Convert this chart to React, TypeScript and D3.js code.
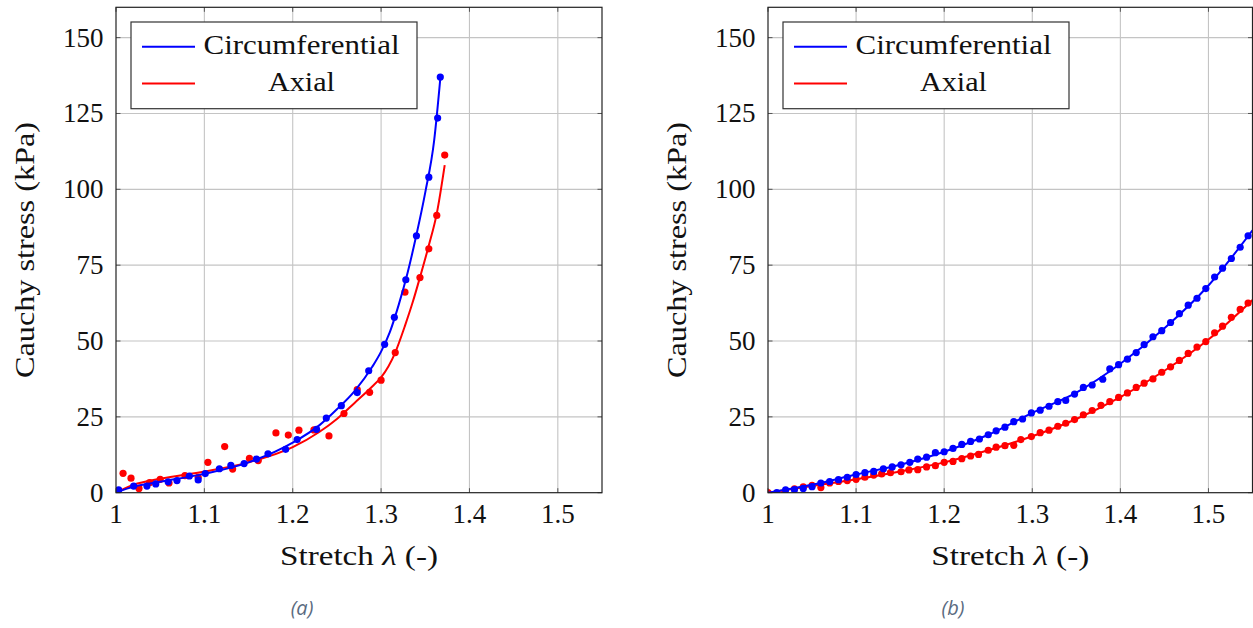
import React from 'react';
import * as d3 from 'd3';

type Pt = [number, number];

const xTicks = [1, 1.1, 1.2, 1.3, 1.4, 1.5];
const xTickLabels = ['1', '1.1', '1.2', '1.3', '1.4', '1.5'];
const yTicks = [0, 25, 50, 75, 100, 125, 150];
const yTickLabels = ['0', '25', '50', '75', '100', '125', '150'];
const seriesNames = ['Circumferential', 'Axial'];
const seriesColors = ['#0000ff', '#ff0000'];
const xLabel = 'Stretch';
const yLabel = 'Cauchy stress (kPa)';
const captions = ['(a)', '(b)'];

// Panel (a) experimental points
const leftCircPoints: Pt[] = [
  [1.003, 0.9], [1.02, 2.2], [1.035, 2.2], [1.045, 2.9], [1.059, 3.6], [1.069, 4.0],
  [1.083, 5.5], [1.093, 4.2], [1.101, 6.3], [1.117, 7.9], [1.13, 9.0], [1.145, 9.6],
  [1.159, 11.1], [1.172, 12.8], [1.192, 14.3], [1.205, 17.5], [1.227, 20.9], [1.238, 24.6],
  [1.255, 28.7], [1.273, 33.0], [1.286, 40.2], [1.304, 48.9], [1.315, 57.8], [1.328, 70.2],
  [1.34, 84.7], [1.354, 104.0], [1.364, 123.5], [1.367, 137.0],
];
const leftAxialPoints: Pt[] = [
  [1.008, 6.4], [1.017, 4.8], [1.026, 1.4], [1.038, 3.3], [1.05, 4.4], [1.06, 3.2],
  [1.078, 5.6], [1.093, 5.1], [1.104, 10.0], [1.123, 15.2], [1.132, 7.8], [1.151, 11.3],
  [1.161, 10.6], [1.181, 19.7], [1.195, 19.0], [1.207, 20.6], [1.224, 20.7], [1.241, 18.7],
  [1.258, 26.1], [1.273, 34.0], [1.287, 33.1], [1.3, 37.1], [1.316, 46.2], [1.327, 66.1],
  [1.344, 70.9], [1.354, 80.4], [1.363, 91.4], [1.372, 111.3],
];
// Panel (a) fitted curves
const leftCircFit: Pt[] = [
  [1.0, 0], [1.02, 2.0], [1.05, 3.6], [1.1, 6.2], [1.15, 10.0], [1.2, 16.5], [1.23, 22.2],
  [1.25, 27.5], [1.27, 33.5], [1.29, 41.5], [1.3, 46.5], [1.31, 53], [1.32, 62], [1.33, 72.5],
  [1.34, 85], [1.35, 99], [1.36, 116], [1.367, 136.5],
];
const leftAxialFit: Pt[] = [
  [1.0, 0], [1.02, 2.6], [1.05, 4.6], [1.1, 7.0], [1.15, 10.0], [1.2, 15.0], [1.23, 20.0],
  [1.25, 24.3], [1.27, 29.6], [1.29, 35.0], [1.3, 38.0], [1.316, 46.2], [1.327, 55],
  [1.336, 63], [1.344, 71], [1.354, 81.5], [1.363, 92], [1.372, 108],
];

// Panel (b) points
const rightCircPoints: Pt[] = [
  [1.01, 0.0], [1.02, 0.9], [1.03, 1.0], [1.04, 1.4], [1.05, 2.0], [1.06, 3.2], [1.07, 3.7],
  [1.08, 4.3], [1.09, 5.1], [1.1, 6.0], [1.11, 6.6], [1.12, 7.0], [1.131, 7.9], [1.141, 8.5],
  [1.151, 9.2], [1.161, 10.0], [1.17, 11.1], [1.18, 11.7], [1.19, 13.2], [1.2, 13.5],
  [1.21, 14.6], [1.22, 15.9], [1.23, 16.9], [1.24, 17.7], [1.25, 19.1], [1.259, 20.4],
  [1.269, 21.6], [1.279, 23.4], [1.289, 24.3], [1.299, 26.3], [1.309, 27.2], [1.319, 28.5],
  [1.329, 30.0], [1.338, 30.4], [1.348, 32.5], [1.358, 34.7], [1.368, 35.5], [1.38, 37.4],
  [1.388, 40.8], [1.398, 42.2], [1.408, 44.0], [1.418, 46.2], [1.427, 48.8], [1.437, 51.4],
  [1.447, 53.4], [1.457, 56.1], [1.467, 59.0], [1.477, 61.8], [1.487, 64.1], [1.497, 67.3],
  [1.507, 71.1], [1.516, 74.0], [1.526, 77.2], [1.536, 80.9], [1.545, 84.7],
];
const rightAxialPoints: Pt[] = [
  [1.0, 0], [1.019, 0], [1.03, 1.3], [1.04, 1.9], [1.05, 2.4], [1.06, 1.7], [1.07, 3.2],
  [1.08, 3.7], [1.09, 4.0], [1.1, 4.4], [1.11, 5.1], [1.12, 5.8], [1.129, 6.2], [1.139, 6.6],
  [1.151, 6.9], [1.16, 7.5], [1.17, 7.6], [1.18, 8.5], [1.19, 8.9], [1.2, 10.0], [1.21, 10.3],
  [1.22, 11.2], [1.23, 12.1], [1.239, 12.6], [1.25, 14.0], [1.259, 15.0], [1.269, 15.5],
  [1.279, 15.6], [1.287, 17.5], [1.299, 18.5], [1.309, 19.8], [1.319, 20.6], [1.329, 21.9],
  [1.338, 22.9], [1.348, 24.1], [1.358, 25.7], [1.368, 27.1], [1.378, 28.8], [1.388, 30.0],
  [1.398, 31.4], [1.408, 32.9], [1.418, 34.7], [1.427, 36.1], [1.437, 37.5], [1.447, 39.7],
  [1.457, 41.5], [1.467, 43.6], [1.477, 45.9], [1.487, 48.0], [1.497, 49.8], [1.507, 52.7],
  [1.516, 54.9], [1.526, 57.8], [1.536, 60.4], [1.545, 62.5],
];
const rightCircFit: Pt[] = [
  [1.0, 0], [1.05, 2.6], [1.1, 6.0], [1.15, 9.2], [1.2, 13.5], [1.25, 19.1], [1.3, 26.3],
  [1.35, 33.0], [1.4, 42.5], [1.45, 54.2], [1.5, 68.3], [1.55, 86.5],
];
const rightAxialFit: Pt[] = [
  [1.0, 0], [1.05, 2.2], [1.1, 4.4], [1.15, 7.0], [1.2, 10.0], [1.25, 14.0], [1.3, 18.6],
  [1.35, 24.3], [1.4, 31.5], [1.45, 40.2], [1.5, 50.5], [1.55, 63.5],
];

const SERIF = '"Liberation Serif", "Times New Roman", serif';

interface PanelProps {
  id: string;
  x0: number;
  x1: number;
  circPts: Pt[];
  axialPts: Pt[];
  circFit: Pt[];
  axialFit: Pt[];
  caption: string;
  captionX: number;
}

function Panel({ id, x0, x1, circPts, axialPts, circFit, axialFit, caption, captionX }: PanelProps) {
  const top = 7.3;
  const bottom = 492.7;
  const x = d3.scaleLinear().domain([1, 1.55]).range([x0, x1]);
  const y = d3.scaleLinear().domain([0, 160]).range([bottom, top]);
  const line = d3
    .line<Pt>()
    .x((d) => x(d[0]))
    .y((d) => y(d[1]))
    .curve(d3.curveMonotoneX);
  const tickLen = 4.5;
  const cx = (x0 + x1) / 2;
  const legX = x0 + 15;
  const r = 3.6;
  return (
    <g>
      <defs>
        <clipPath id={`clip-${id}`}>
          <rect x={x0} y={top} width={x1 - x0} height={bottom - top} />
        </clipPath>
      </defs>
      {/* grid */}
      {xTicks.slice(1).map((t) => (
        <line key={`gx${t}`} x1={x(t)} x2={x(t)} y1={top} y2={bottom} stroke="#c4c4c4" strokeWidth={1.1} />
      ))}
      {yTicks.slice(1).map((t) => (
        <line key={`gy${t}`} x1={x0} x2={x1} y1={y(t)} y2={y(t)} stroke="#c4c4c4" strokeWidth={1.1} />
      ))}
      {/* ticks */}
      {xTicks.map((t) => (
        <g key={`tx${t}`}>
          <line x1={x(t)} x2={x(t)} y1={bottom} y2={bottom - tickLen} stroke="#555" strokeWidth={1} />
          <line x1={x(t)} x2={x(t)} y1={top} y2={top + tickLen} stroke="#555" strokeWidth={1} />
        </g>
      ))}
      {yTicks.map((t) => (
        <g key={`ty${t}`}>
          <line x1={x0} x2={x0 + tickLen} y1={y(t)} y2={y(t)} stroke="#555" strokeWidth={1} />
          <line x1={x1} x2={x1 - tickLen} y1={y(t)} y2={y(t)} stroke="#555" strokeWidth={1} />
        </g>
      ))}
      {/* data */}
      <g clipPath={`url(#clip-${id})`}>
        <path d={line(axialFit) || ''} fill="none" stroke={seriesColors[1]} strokeWidth={2} />
        {axialPts.map((p, i) => (
          <circle key={`ap${i}`} cx={x(p[0])} cy={y(p[1])} r={r} fill={seriesColors[1]} />
        ))}
        <path d={line(circFit) || ''} fill="none" stroke={seriesColors[0]} strokeWidth={2} />
        {circPts.map((p, i) => (
          <circle key={`cp${i}`} cx={x(p[0])} cy={y(p[1])} r={r} fill={seriesColors[0]} />
        ))}
      </g>
      {/* frame */}
      <rect x={x0} y={top} width={x1 - x0} height={bottom - top} fill="none" stroke="#222" strokeWidth={1.2} />
      {/* tick labels */}
      {xTicks.map((t, i) => (
        <text key={`lx${t}`} x={x(t)} y={523} textAnchor="middle" fontFamily={SERIF} fontSize={27} fill="#111">
          {xTickLabels[i]}
        </text>
      ))}
      {yTicks.map((t, i) => (
        <text key={`ly${t}`} x={x0 - 12.5} y={y(t) + 9} textAnchor="end" fontFamily={SERIF} fontSize={27} fill="#111">
          {yTickLabels[i]}
        </text>
      ))}
      {/* axis labels */}
      <text x={cx} y={565} textAnchor="middle" fontFamily={SERIF} fontSize={28} fill="#111" textLength={158} lengthAdjust="spacingAndGlyphs">
        {xLabel} <tspan fontStyle="italic">λ</tspan> (-)
      </text>
      <text
        transform={`translate(${x0 - 82},250) rotate(-90)`}
        textAnchor="middle"
        fontFamily={SERIF}
        fontSize={28}
        fill="#111"
        textLength={256}
        lengthAdjust="spacingAndGlyphs"
      >
        {yLabel}
      </text>
      {/* legend */}
      <rect x={legX} y={22} width={286} height={86.7} fill="#fff" stroke="#333" strokeWidth={1.2} />
      {seriesNames.map((name, i) => {
        const ly = 46.8 + i * 36.6;
        return (
          <g key={name}>
            <line x1={legX + 11} x2={legX + 64} y1={ly} y2={ly} stroke={seriesColors[i]} strokeWidth={2} />
            <text
              x={legX + 170.5}
              y={ly + 7.6}
              textAnchor="middle"
              fontFamily={SERIF}
              fontSize={28}
              fill="#111"
              textLength={i === 0 ? 196 : 67}
              lengthAdjust="spacingAndGlyphs"
            >
              {name}
            </text>
          </g>
        );
      })}
      {/* caption */}
      <text x={captionX} y={615} textAnchor="middle" fontFamily='"Open Sans", "Noto Sans", sans-serif' fontStyle="italic" fontSize={20} fill="#5a6a80">
        {caption}
      </text>
    </g>
  );
}

export default function App() {
  return (
    <svg width={1253} height={628} style={{ position: 'absolute', left: 0, top: 0, background: '#fff' }}>
      <rect width={1253} height={628} fill="#fff" />
      <Panel
        id="a"
        x0={116}
        x1={602}
        circPts={leftCircPoints}
        axialPts={leftAxialPoints}
        circFit={leftCircFit}
        axialFit={leftAxialFit}
        caption={captions[0]}
        captionX={302}
      />
      <Panel
        id="b"
        x0={768}
        x1={1252.5}
        circPts={rightCircPoints}
        axialPts={rightAxialPoints}
        circFit={rightCircFit}
        axialFit={rightAxialFit}
        caption={captions[1]}
        captionX={953}
      />
    </svg>
  );
}
